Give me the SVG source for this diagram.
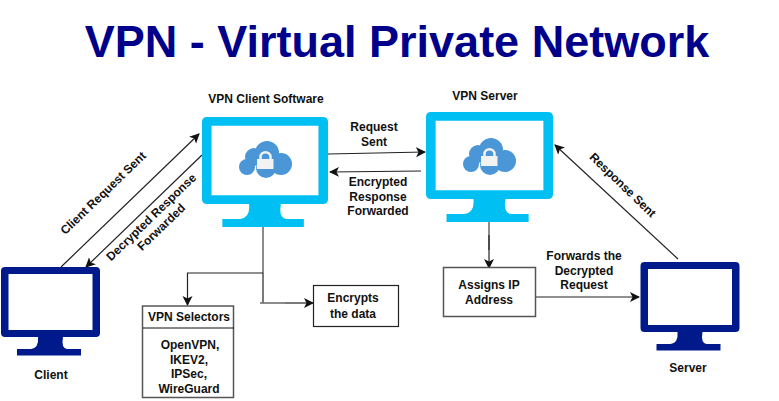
<svg xmlns="http://www.w3.org/2000/svg" width="779" height="401" viewBox="0 0 779 401">
<style>
text{font-family:"Liberation Sans",Arial,sans-serif;font-size:12px;font-weight:700;fill:#111;text-anchor:middle}
.title{font-size:45px;fill:#00008b}
.c{fill:none;stroke:#222;stroke-width:1.2}
.g{fill:none;stroke:#666;stroke-width:1.5}
.box{fill:#fff;stroke:#555;stroke-width:1.5}
.cy{fill:#00bff3}.nv{fill:#001a8c}
</style>
<defs>
<marker id="a" markerUnits="userSpaceOnUse" markerWidth="12" markerHeight="12" refX="9" refY="5" orient="auto"><path d="M0 0L10 5L0 10L2.500 5Z" fill="#111"/></marker>
<path id="mon" fill-rule="evenodd" d="M4 0H95Q99 0 99 4V66Q99 70 95 70H62Q60 81 66 82H80V88.500H16V82H30Q38 81 37 70H4Q0 70 0 66V4Q0 0 4 0ZM7.500 7V63H91.500V7Z"/>
<g id="cloud"><g fill="#4a96d6"><circle cx="8" cy="26" r="8"/><circle cx="15" cy="16" r="9"/><circle cx="28" cy="12" r="12"/><circle cx="42" cy="23" r="11"/><circle cx="27" cy="27" r="10"/></g><path fill="none" stroke="#f2f2f2" stroke-width="2.500" d="M21.500 19V16C21.500 9.500 31.500 9.500 31.500 16V19"/><rect x="18" y="18" width="16.500" height="10" fill="#f2f2f2"/></g>
</defs>
<text class="title" x="397" y="57">VPN - Virtual Private Network</text>
<g id="connectors">
<path class="c" d="M61 267L199 134" marker-end="url(#a)"/>
<path class="c" d="M202 155L86 267" marker-end="url(#a)"/>
<path class="c" d="M328 154L425 152" marker-end="url(#a)"/>
<path class="c" d="M421 171L330 172" marker-end="url(#a)"/>
<path class="g" d="M263 227V273"/>
<path class="c" d="M263 273H187.500V305" marker-end="url(#a)"/>
<path class="c" d="M263 273V303"/>
<path class="g" d="M260 303H285"/>
<path class="c" d="M285 303H313" marker-end="url(#a)"/>
<path class="g" d="M489 222V250"/>
<path class="c" d="M489 235V268" marker-end="url(#a)"/>
<path class="c" d="M536 297H639" marker-end="url(#a)"/>
<path class="c" d="M678 259L555 145" marker-end="url(#a)"/>
</g>
<g id="client"><use href="#mon" class="nv" transform="translate(1 267)"/><text x="51" y="379">Client</text></g>
<g id="vpn-client"><use href="#mon" class="cy" transform="translate(202 117) scale(1.273 1.243)"/><use href="#cloud" transform="translate(239 141)"/><text x="266" y="103">VPN Client Software</text></g>
<g id="vpn-server"><use href="#mon" class="cy" transform="translate(426 112) scale(1.283 1.243)"/><use href="#cloud" transform="translate(463 138)"/><text x="485" y="100">VPN Server</text></g>
<g id="server"><use href="#mon" class="nv" transform="translate(640.500 262)"/><text x="688" y="372">Server</text></g>
<g id="selectors"><rect class="box" x="142.500" y="306" width="91" height="91.500"/><path d="M143 328H234" stroke="#111" stroke-width="1"/><text x="189" y="321">VPN Selectors</text><text x="190" y="349">OpenVPN,</text><text x="189" y="364">IKEV2,</text><text x="189" y="378">IPSec,</text><text x="189" y="393">WireGuard</text></g>
<g id="encrypts"><rect x="313.500" y="285.500" width="85" height="41" fill="#fff" stroke="#222" stroke-width="1.200"/><text x="353" y="302">Encrypts</text><text x="353" y="318">the data</text></g>
<g id="assigns"><rect class="box" x="443.500" y="267.500" width="92" height="49"/><text x="489" y="289">Assigns IP</text><text x="489" y="304">Address</text></g>
<g id="labels">
<text x="374" y="131">Request</text><text x="374" y="146">Sent</text>
<text x="378" y="186">Encrypted</text><text x="378" y="201">Response</text><text x="378" y="215">Forwarded</text>
<text x="584" y="260">Forwards the</text><text x="584" y="275">Decrypted</text><text x="584" y="289">Request</text>
<text transform="translate(106 196) rotate(-44)">Client Request Sent</text>
<text transform="translate(154 220) rotate(-44)">Decrypted Response</text>
<text transform="translate(164 230) rotate(-44)">Forwarded</text>
<text transform="translate(620 188) rotate(44)">Response Sent</text>
</g>
</svg>
